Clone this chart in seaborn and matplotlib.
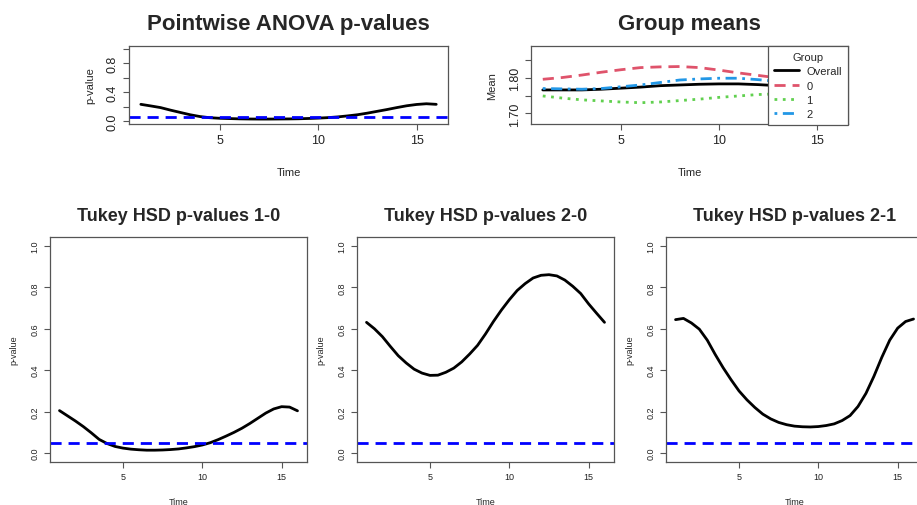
import numpy as np
import pandas as pd
import seaborn as sns
import matplotlib.pyplot as plt

# Time points (p-value curves are read every half step, group means every step)
time_fine = list(np.arange(1, 16.5, 0.5))
time = list(range(1, 17))

# Pointwise ANOVA p-values
anova_p = [0.232, 0.21, 0.187, 0.152, 0.12, 0.088, 0.063, 0.047, 0.039, 0.035,
           0.031, 0.029, 0.028, 0.028, 0.029, 0.030, 0.032, 0.036, 0.041, 0.048,
           0.058, 0.072, 0.088, 0.11, 0.135, 0.16, 0.187, 0.212, 0.23, 0.24, 0.232]

# Group means
mean_overall = [1.766, 1.766, 1.766, 1.768, 1.771, 1.774, 1.778, 1.780,
                1.782, 1.783, 1.783, 1.781, 1.778, 1.775, 1.772, 1.770]
mean_g0 = [1.796, 1.801, 1.808, 1.816, 1.823, 1.829, 1.831, 1.832,
           1.829, 1.822, 1.814, 1.807, 1.800, 1.794, 1.790, 1.788]
mean_g1 = [1.749, 1.743, 1.738, 1.735, 1.732, 1.730, 1.732, 1.736,
           1.740, 1.745, 1.749, 1.753, 1.755, 1.757, 1.758, 1.758]
mean_g2 = [1.770, 1.769, 1.768, 1.770, 1.775, 1.780, 1.787, 1.794,
           1.797, 1.799, 1.799, 1.795, 1.790, 1.784, 1.779, 1.776]
group_labels = ['Overall', '0', '1', '2']

# Tukey HSD p-values
tukey_10 = [0.205, 0.18, 0.155, 0.128, 0.098, 0.066, 0.046, 0.032, 0.024, 0.019,
            0.016, 0.014, 0.014, 0.015, 0.017, 0.020, 0.025, 0.031, 0.039, 0.050,
            0.065, 0.082, 0.100, 0.120, 0.143, 0.168, 0.193, 0.213, 0.224, 0.222, 0.204]
tukey_20 = [0.631, 0.60, 0.562, 0.515, 0.47, 0.435, 0.405, 0.386, 0.375, 0.376,
            0.39, 0.41, 0.44, 0.478, 0.52, 0.575, 0.635, 0.69, 0.74, 0.785,
            0.818, 0.845, 0.858, 0.861, 0.855, 0.835, 0.805, 0.77, 0.72, 0.675, 0.631]
tukey_21 = [0.644, 0.650, 0.628, 0.598, 0.545, 0.476, 0.412, 0.354, 0.300, 0.257,
            0.220, 0.188, 0.165, 0.148, 0.137, 0.130, 0.127, 0.126, 0.128, 0.133,
            0.141, 0.157, 0.181, 0.225, 0.288, 0.370, 0.462, 0.545, 0.603, 0.635, 0.647]
tukey_titles = ['Tukey HSD p-values 1-0', 'Tukey HSD p-values 2-0', 'Tukey HSD p-values 2-1']

alpha = 0.05

sns.set_style('ticks')
plt.rcParams['font.family'] = ['Liberation Sans', 'DejaVu Sans']
plt.rcParams['axes.edgecolor'] = '#555555'
plt.rcParams['xtick.color'] = '#555555'
plt.rcParams['ytick.color'] = '#555555'
plt.rcParams['xtick.labelcolor'] = '#222222'
plt.rcParams['ytick.labelcolor'] = '#222222'

fig = plt.figure(figsize=(9.17, 5.06), dpi=100)

xlim = (1 - 0.6, 16 + 0.6)


def style_axes(ax, fs):
    ax.set_xlim(*xlim)
    ax.set_xticks([5, 10, 15])
    ax.tick_params(axis='both', labelsize=fs, length=4, width=0.8)
    ax.tick_params(axis='y', labelrotation=90)
    for lab in ax.get_yticklabels():
        lab.set_va('center')
    for sp in ax.spines.values():
        sp.set_linewidth(0.9)
        sp.set_visible(True)


# Pointwise ANOVA p-values
ax1 = fig.add_axes([0.1407, 0.7530, 0.3479, 0.1542])
sns.lineplot(x=time_fine, y=anova_p, ax=ax1, color='black', linewidth=2)
ax1.axhline(alpha, color='blue', linestyle=(0, (4, 2.5)), linewidth=2)
ax1.set_ylim(-0.04, 1.04)
ax1.set_yticks([0.0, 0.2, 0.4, 0.6, 0.8, 1.0])
ax1.set_yticklabels(['0.0', '', '0.4', '', '0.8', ''])
style_axes(ax1, 9)
ax1.set_xlabel('Time', fontsize=8, labelpad=15)
ax1.set_ylabel('p-value', fontsize=8, labelpad=8)
ax1.set_title('Pointwise ANOVA p-values', fontsize=16, fontweight='bold', pad=12)

# Group means
ax2 = fig.add_axes([0.5791, 0.7530, 0.3457, 0.1542])
means = pd.DataFrame({
    'Time': time * 4,
    'Mean': mean_overall + mean_g0 + mean_g1 + mean_g2,
    'Group': [g for g in group_labels for _ in time],
})
palette = {'Overall': 'black', '0': '#DF536B', '1': '#61D04F', '2': '#2297E6'}
dashes = {'Overall': '', '0': (4, 2.5), '1': (1, 2), '2': (1, 2, 4, 2)}
sns.lineplot(data=means, x='Time', y='Mean', hue='Group', style='Group',
             palette=palette, dashes=dashes, linewidth=2, ax=ax2)
ax2.set_ylim(1.670, 1.890)
ax2.set_yticks([1.70, 1.75, 1.80, 1.85])
ax2.set_yticklabels(['1.70', '', '1.80', ''])
style_axes(ax2, 9)
ax2.set_xlabel('Time', fontsize=8, labelpad=15)
ax2.set_ylabel('Mean', fontsize=8, labelpad=8)
ax2.set_title('Group means', fontsize=16, fontweight='bold', pad=12)
leg = ax2.legend(title='Group', loc='upper right', fontsize=8, title_fontsize=8,
                 frameon=True, fancybox=False, framealpha=1, borderaxespad=0,
                 handlelength=2.2, handletextpad=0.7, labelspacing=0.38,
                 borderpad=0.55)
leg.get_frame().set_edgecolor('#555555')
leg.get_frame().set_linewidth(0.9)

# Tukey HSD p-values
lefts = [0.0545, 0.3893, 0.7263]
for left, vals, title in zip(lefts, [tukey_10, tukey_20, tukey_21], tukey_titles):
    ax = fig.add_axes([left, 0.0850, 0.2803, 0.4447])
    sns.lineplot(x=time_fine, y=vals, ax=ax, color='black', linewidth=2)
    ax.axhline(alpha, color='blue', linestyle=(0, (4, 2.5)), linewidth=2)
    ax.set_ylim(-0.043, 1.043)
    ax.set_yticks([0.0, 0.2, 0.4, 0.6, 0.8, 1.0])
    style_axes(ax, 6.5)
    ax.set_xlabel('Time', fontsize=6.5, labelpad=11)
    ax.set_ylabel('p-value', fontsize=6.5, labelpad=9)
    ax.set_title(title, fontsize=13, fontweight='bold', pad=12)

plt.savefig('out.png', dpi=100)
